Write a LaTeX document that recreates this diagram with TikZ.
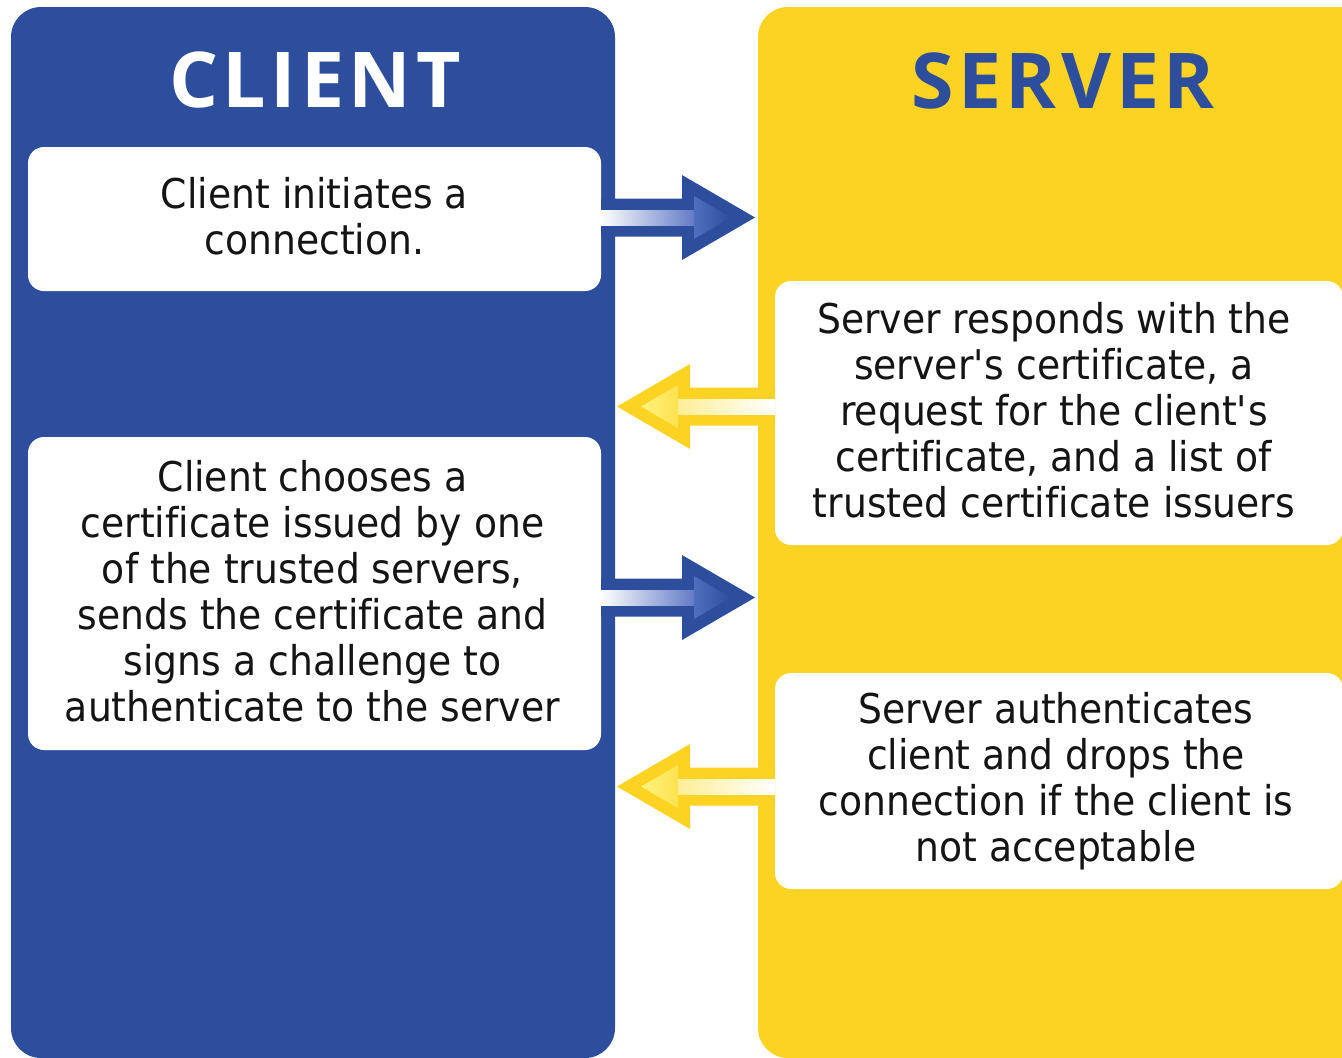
\documentclass[tikz,border=0pt]{standalone}
\usepackage{fontspec}
\setmainfont{DejaVu Sans}[FakeStretch=0.92, Ligatures={NoCommon}]
\newfontfamily\titlefont{Open Sans}[LetterSpace=6]
\usetikzlibrary{calc}

\definecolor{cblue}{RGB}{45,78,157}
\definecolor{cyellow}{RGB}{252,210,35}
\definecolor{shaftblue}{RGB}{96,122,196}
\definecolor{headblue}{RGB}{78,110,190}
\definecolor{paleyellow}{RGB}{253,238,150}
\definecolor{lightyellow}{RGB}{255,242,125}
\definecolor{midyellow}{RGB}{253,226,80}
\definecolor{ink}{RGB}{20,20,20}

% outlined block arrow: outer colour, shaft shading, head shading, shaft length
\newcommand\arrowbody[4]{%
  \fill[#1] (0,-19) -- (#4,-19) -- (#4,-42.5) -- ({#4+73},0) -- (#4,42.5) -- (#4,19) -- (0,19) -- cycle;
  \shade[#2] (0,-7.5) rectangle ({#4+13},7.5);
  \shade[#3] ({#4+12},-21.5) -- ({#4+49},0) -- ({#4+12},21.5) -- cycle;
}
\newcommand\apos{\textquotesingle}

\begin{document}
\begin{tikzpicture}[x=1pt,y=-1pt,
  panel/.style={inner sep=0pt, outer sep=0pt, rounded corners=30pt, anchor=north west},
  card/.style={fill=white, inner sep=0pt, outer sep=0pt, rounded corners=16pt, anchor=north west},
  cardtext/.style={align=center, text=ink, font=\fontsize{41}{46}\selectfont},
  heading/.style={anchor=base, font=\titlefont\bfseries\fontsize{77}{80}\selectfont}]

\useasboundingbox (0,0) rectangle (1342,1058);
\clip (0,0) rectangle (1342,1058);
\fill[white] (0,0) rectangle (1342,1058);

% the two columns
\node[panel, fill=cblue, minimum width=604pt, minimum height=1051pt] (client) at (11,7) {};
\node[panel, fill=cyellow, minimum width=630pt, minimum height=1051pt] (server) at (758,7) {};

\node[heading, text=white] (clienttitle) at (315,107) {CLIENT};
\node[heading, text=cblue] (servertitle) at (1063,108) {SERVER};

% message cards
\node[card, minimum width=573pt, minimum height=144pt] (b1) at (28,147) {};
\node[card, minimum width=573pt, minimum height=313pt] (b2) at (28,437) {};
\node[card, minimum width=568pt, minimum height=264pt] (b3) at (775,281) {};
\node[card, minimum width=568pt, minimum height=216pt] (b4) at (775,673) {};

\node[cardtext] (t1) at ($(b1.center)+(0,-3)$) {Client initiates a\\connection.};
\node[cardtext] (t2) at ($(b2.center)+(-2,-2)$) {Client chooses a\\certificate issued by one\\of the trusted servers,\\sends the certificate and\\signs a challenge to\\authenticate to the server};
\node[cardtext] (t3) at ($(b3.center)+(-5,-3)$) {Server responds with the\\server\apos s certificate, a\\request for the client\apos s\\certificate, and a list of\\trusted certificate issuers};
\node[cardtext] (t4) at ($(b4.center)+(-3,0)$) {Server authenticates\\client and drops the\\connection if the client is\\not acceptable};

% client -> server arrows
\begin{scope}[shift={(b1.east)}, yshift=1.5pt]
  \arrowbody{cblue}{left color=white,right color=shaftblue}{left color=headblue,right color=cblue}{81}
\end{scope}
\begin{scope}[shift={(b2.east)}, yshift=-4pt]
  \arrowbody{cblue}{left color=white,right color=shaftblue}{left color=headblue,right color=cblue}{81}
\end{scope}

% server -> client arrows
\begin{scope}[shift={(b3.west)}, yshift=6.5pt, x=-1pt]
  \arrowbody{cyellow}{left color=paleyellow,right color=white}{left color=lightyellow,right color=midyellow}{85}
\end{scope}
\begin{scope}[shift={(b4.west)}, yshift=-5.5pt, x=-1pt]
  \arrowbody{cyellow}{left color=paleyellow,right color=white}{left color=lightyellow,right color=midyellow}{85}
\end{scope}

\end{tikzpicture}
\end{document}
